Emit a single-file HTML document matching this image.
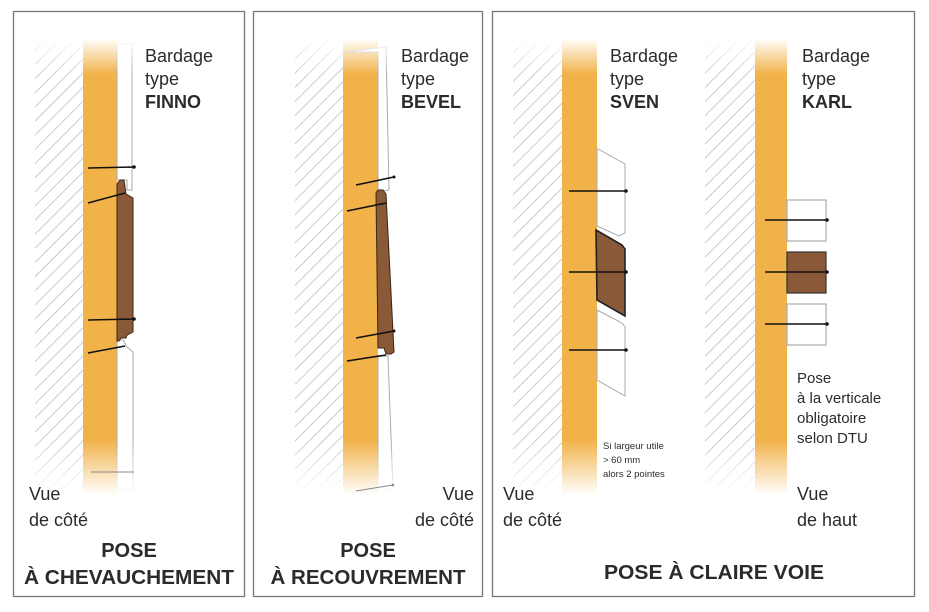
<!DOCTYPE html>
<html><head><meta charset="utf-8"><style>
html,body{margin:0;padding:0;background:#fff}
svg{display:block}
text{font-family:"Liberation Sans",sans-serif;fill:#2b2b2b}
</style></head><body>
<svg width="929" height="612" viewBox="0 0 929 612" xmlns="http://www.w3.org/2000/svg">
<defs>
<pattern id="h" patternUnits="userSpaceOnUse" width="10" height="10" patternTransform="rotate(45)">
<rect width="10" height="10" fill="#fff"/><line x1="0" y1="0" x2="0" y2="10" stroke="#b4b4b4" stroke-width="1.4"/>
</pattern>
<linearGradient id="fade" gradientUnits="userSpaceOnUse" x1="0" y1="38" x2="0" y2="495">
<stop offset="0" stop-color="#fff" stop-opacity="0"/>
<stop offset="0.08" stop-color="#fff" stop-opacity="1"/>
<stop offset="0.88" stop-color="#fff" stop-opacity="1"/>
<stop offset="1" stop-color="#fff" stop-opacity="0"/>
</linearGradient>
<mask id="m"><rect x="0" y="0" width="929" height="612" fill="url(#fade)"/></mask>
</defs>

<rect x="13.5" y="11.5" width="231" height="585" fill="none" stroke="#777" stroke-width="1.3"/>
<rect x="253.5" y="11.5" width="229" height="585" fill="none" stroke="#777" stroke-width="1.3"/>
<rect x="492.5" y="11.5" width="422" height="585" fill="none" stroke="#777" stroke-width="1.3"/>

<g mask="url(#m)">
<rect x="35" y="38" width="48" height="457" fill="url(#h)"/>
<rect x="83" y="38" width="34" height="457" fill="#f1b24a"/>
<rect x="295" y="38" width="48" height="457" fill="url(#h)"/>
<rect x="343" y="38" width="35" height="457" fill="#f1b24a"/>
<rect x="513" y="38" width="49" height="457" fill="url(#h)"/>
<rect x="562" y="38" width="35" height="457" fill="#f1b24a"/>
<rect x="705" y="38" width="50" height="457" fill="url(#h)"/>
<rect x="755" y="38" width="32" height="457" fill="#f1b24a"/>
<path d="M117,45 L132,43 L132,190 L127,190 L127,180 L117,180 Z" fill="#fff" stroke="#aaa" stroke-width="1"/>
<path d="M117,340 L123,340 L127,347 L133,352 L133,490 L117,490 Z" fill="#fff" stroke="#aaa" stroke-width="1"/>
<path d="M345,52 L386,47 L389,190 L378,192 L378,52 Z" fill="#fff" stroke="#aaa" stroke-width="1"/>
<path d="M378,356 L388,356 L393,490 L378,490 Z" fill="#fff" stroke="#aaa" stroke-width="1"/>
</g>

<path d="M117,184 L120,180 L124,180 L126,194 L133,198 L133,332 L127,335 L126,338 L121,338 L119,341 L117,341 Z" fill="#8a5a38" stroke="#3a2516" stroke-width="1"/>
<line x1="88" y1="168" x2="134" y2="167" stroke="#111" stroke-width="1.6"/><circle cx="134" cy="167" r="1.8" fill="#111"/>
<line x1="88" y1="203" x2="125" y2="193" stroke="#111" stroke-width="1.6"/>
<line x1="88" y1="320" x2="134" y2="319" stroke="#111" stroke-width="1.6"/><circle cx="134" cy="319" r="1.8" fill="#111"/>
<line x1="88" y1="353" x2="125" y2="346" stroke="#111" stroke-width="1.6"/>
<line x1="91" y1="472" x2="134" y2="472" stroke="#888" stroke-width="1"/>

<path d="M376,193 L378,190 L383,190 L386,194 L394,352 L391,354 L386,354 L384,348 L378,348 Z" fill="#8a5a38" stroke="#3a2516" stroke-width="1"/>
<line x1="356" y1="185" x2="394" y2="177" stroke="#111" stroke-width="1.6"/><circle cx="394" cy="177" r="1.5" fill="#111"/>
<line x1="347" y1="211" x2="386" y2="203" stroke="#111" stroke-width="1.6"/>
<line x1="356" y1="338" x2="394" y2="331" stroke="#111" stroke-width="1.6"/><circle cx="394" cy="331" r="1.5" fill="#111"/>
<line x1="347" y1="361" x2="386" y2="355" stroke="#111" stroke-width="1.6"/>
<line x1="356" y1="491" x2="393" y2="485" stroke="#888" stroke-width="1"/><circle cx="393" cy="485" r="1.3" fill="#888"/>

<path d="M597,149 L598,149 L625,164 L625,233 L619,236 L597,226 Z" fill="#fff" stroke="#aaa" stroke-width="1"/>
<path d="M596,230 L622,245 L625,249 L625,316 L597,300 Z" fill="#8a5a38" stroke="#222" stroke-width="1.6"/>
<path d="M597,310 L622,323 L625,327 L625,396 L597,380 Z" fill="#fff" stroke="#aaa" stroke-width="1"/>
<line x1="569" y1="191" x2="626" y2="191" stroke="#111" stroke-width="1.6"/><circle cx="626" cy="191" r="1.8" fill="#111"/>
<line x1="569" y1="272" x2="626" y2="272" stroke="#111" stroke-width="1.6"/><circle cx="626" cy="272" r="1.8" fill="#111"/>
<line x1="569" y1="350" x2="626" y2="350" stroke="#111" stroke-width="1.6"/><circle cx="626" cy="350" r="1.8" fill="#111"/>

<rect x="787" y="200" width="39" height="41" fill="#fff" stroke="#aaa" stroke-width="1.2"/>
<rect x="787" y="252" width="39" height="41" fill="#8a5a38" stroke="#333" stroke-width="1.2"/>
<rect x="787" y="304" width="39" height="41" fill="#fff" stroke="#aaa" stroke-width="1.2"/>
<line x1="765" y1="220" x2="827" y2="220" stroke="#111" stroke-width="1.6"/><circle cx="827" cy="220" r="1.8" fill="#111"/>
<line x1="765" y1="272" x2="827" y2="272" stroke="#111" stroke-width="1.6"/><circle cx="827" cy="272" r="1.8" fill="#111"/>
<line x1="765" y1="324" x2="827" y2="324" stroke="#111" stroke-width="1.6"/><circle cx="827" cy="324" r="1.8" fill="#111"/>

<g font-size="18">
<text x="145" y="62">Bardage</text><text x="145" y="85">type</text><text x="145" y="108" font-weight="bold">FINNO</text>
<text x="401" y="62">Bardage</text><text x="401" y="85">type</text><text x="401" y="108" font-weight="bold">BEVEL</text>
<text x="610" y="62">Bardage</text><text x="610" y="85">type</text><text x="610" y="108" font-weight="bold">SVEN</text>
<text x="802" y="62">Bardage</text><text x="802" y="85">type</text><text x="802" y="108" font-weight="bold">KARL</text>
<text x="29" y="500">Vue</text><text x="29" y="526">de côté</text>
<text x="474" y="500" text-anchor="end">Vue</text><text x="474" y="526" text-anchor="end">de côté</text>
<text x="503" y="500">Vue</text><text x="503" y="526">de côté</text>
<text x="797" y="500">Vue</text><text x="797" y="526">de haut</text>
</g>
<g font-size="15">
<text x="797" y="383">Pose</text><text x="797" y="403">à la verticale</text><text x="797" y="423">obligatoire</text><text x="797" y="443">selon DTU</text>
</g>
<g font-size="9.5">
<text x="603" y="449">Si largeur utile</text><text x="603" y="463">&gt; 60 mm</text><text x="603" y="477">alors 2 pointes</text>
</g>
<g font-size="20" font-weight="bold" text-anchor="middle">
<text x="129" y="557">POSE</text><text x="129" y="584" textLength="210" lengthAdjust="spacingAndGlyphs">À CHEVAUCHEMENT</text>
<text x="368" y="557">POSE</text><text x="368" y="584" textLength="195" lengthAdjust="spacingAndGlyphs">À RECOUVREMENT</text>
<text x="714" y="579" textLength="220" lengthAdjust="spacingAndGlyphs">POSE À CLAIRE VOIE</text>
</g>
</svg>
</body></html>
